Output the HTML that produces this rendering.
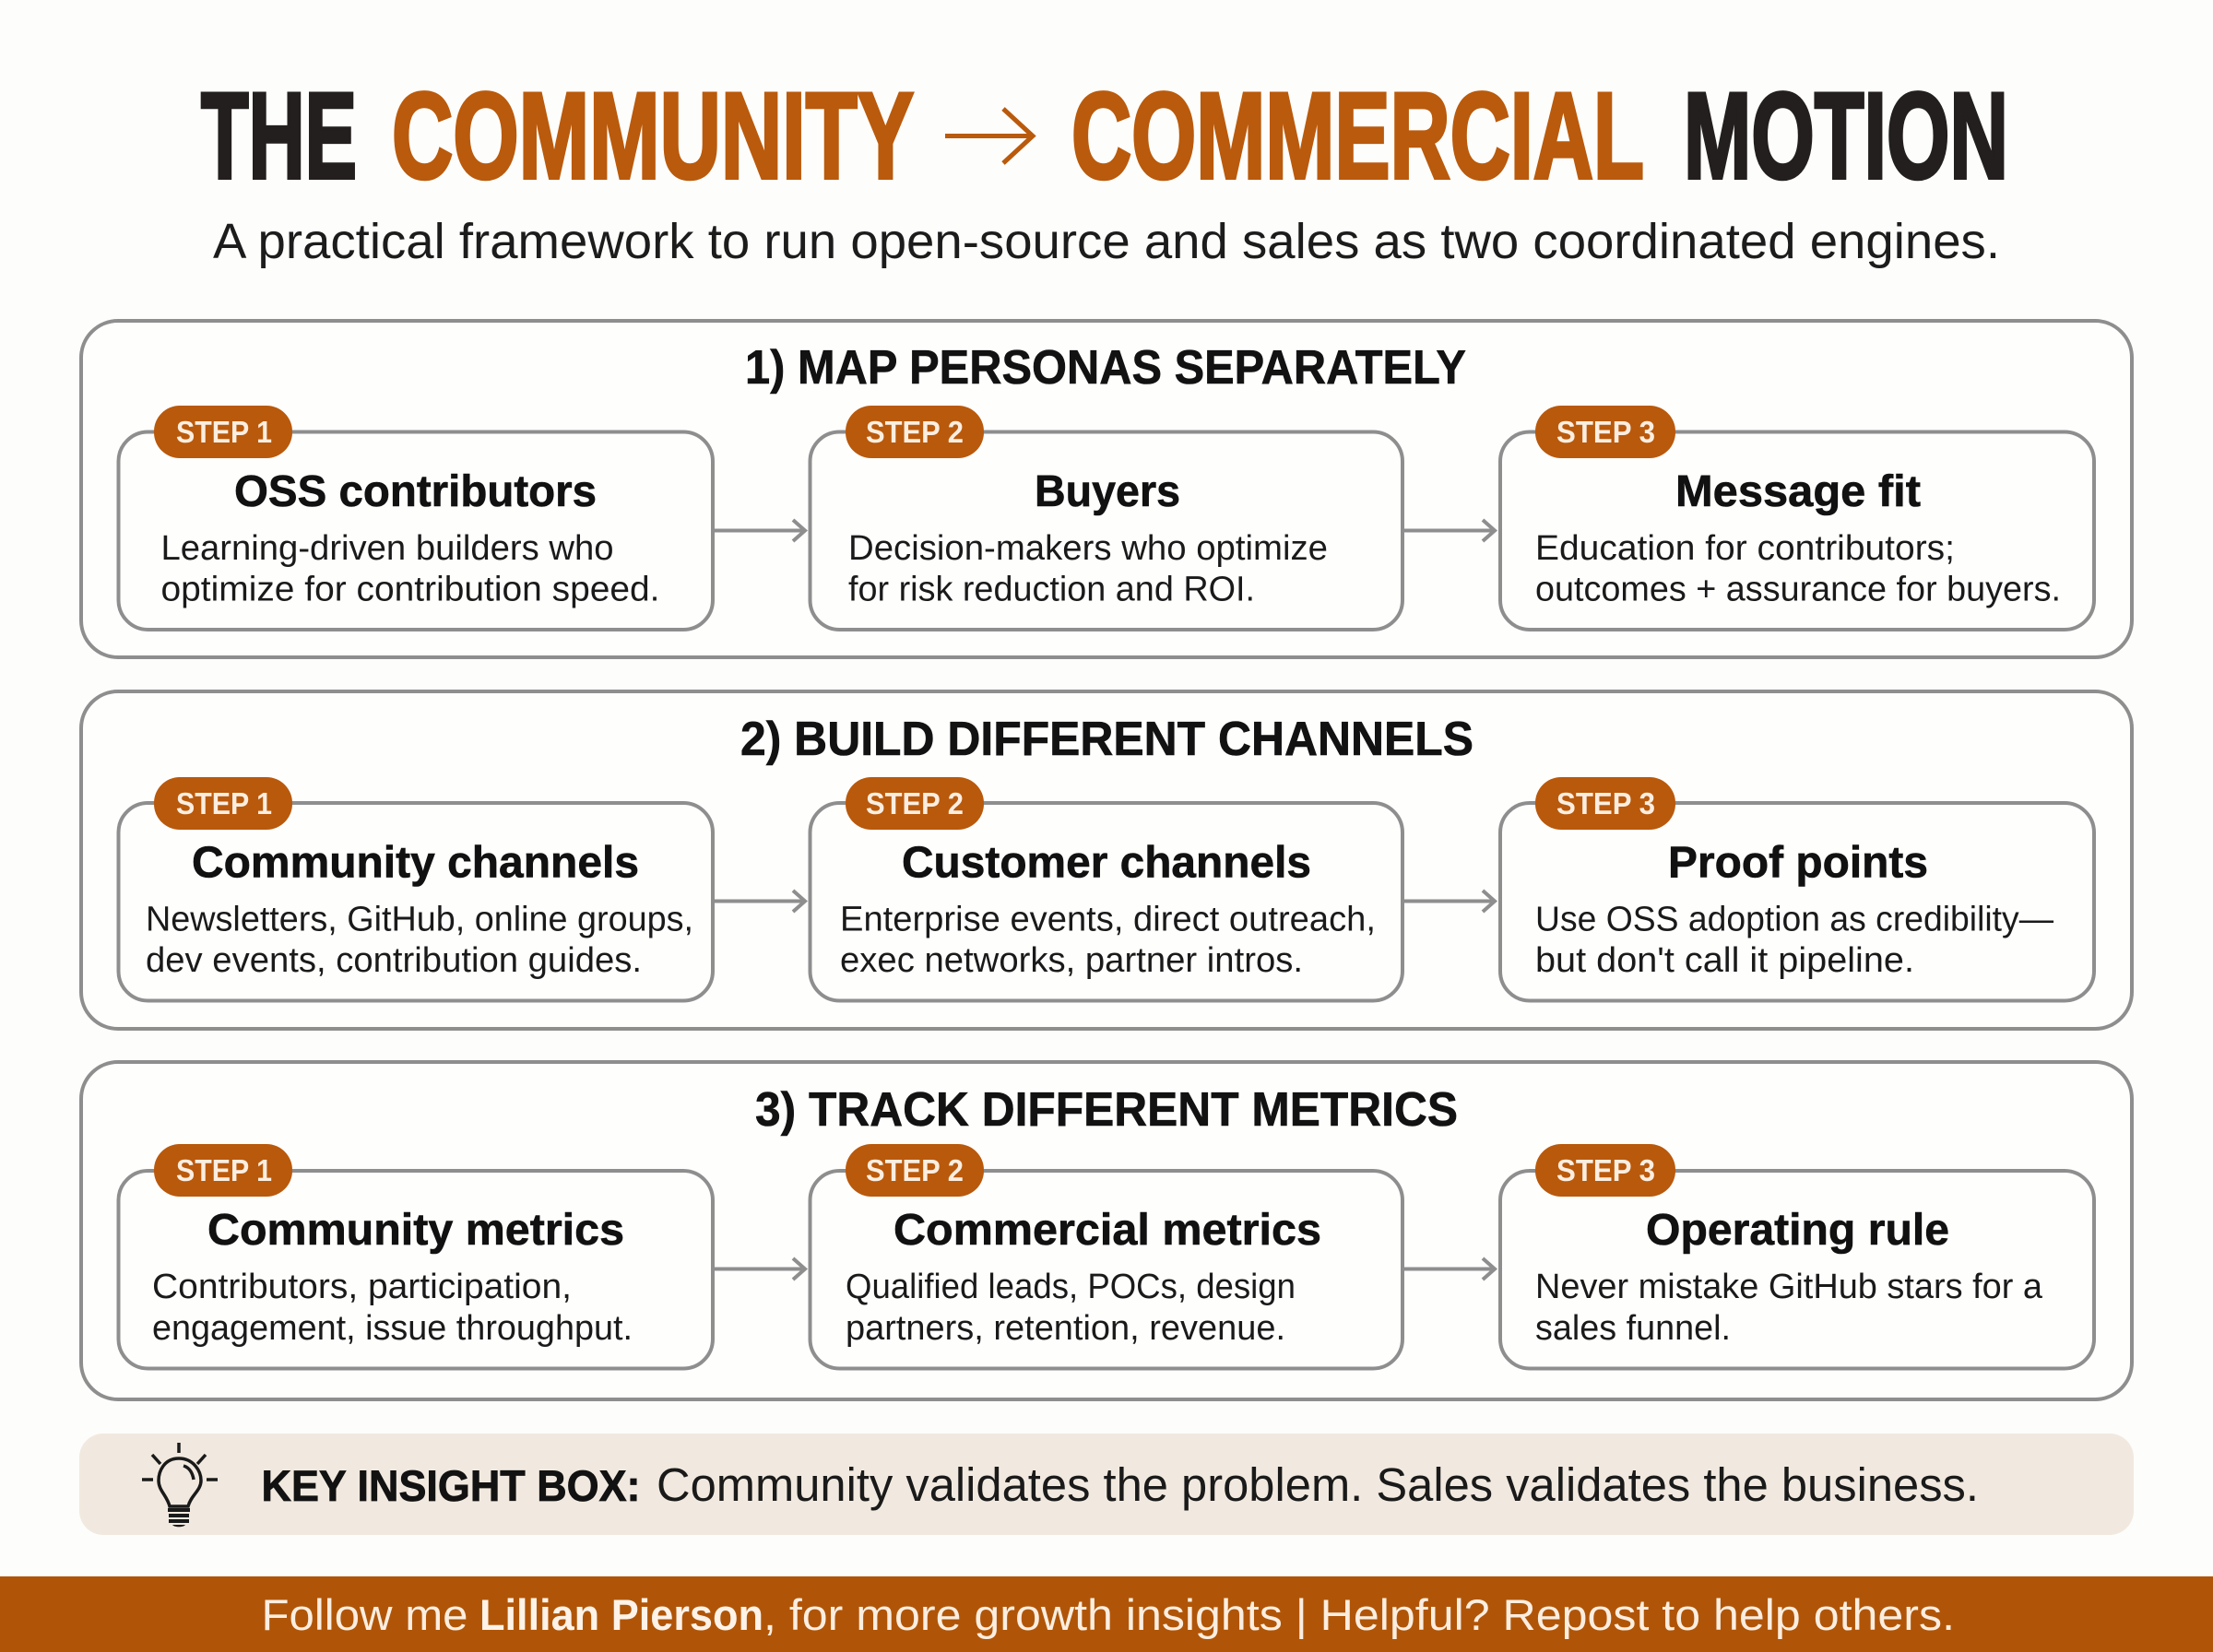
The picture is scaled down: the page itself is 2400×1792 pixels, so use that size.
<!DOCTYPE html>
<html><head><meta charset="utf-8"><style>
html,body{margin:0;padding:0;background:#fdfdfb}
svg{display:block}
text{font-family:"Liberation Sans",sans-serif;white-space:pre}
.h{font-size:52px;font-weight:700;fill:#121212;stroke:#121212;stroke-width:.6}
.t{font-size:48px;font-weight:700;fill:#111;stroke:#111;stroke-width:.6}
.d{font-size:38px;fill:#1a1a1a}
.s{font-size:33px;font-weight:700;fill:#fbeee0}
.o{fill:#fefefd;stroke:#8e8e8e;stroke-width:4}
.b{fill:#b9590c}
.a{stroke:#8e8e8e;stroke-width:4;fill:none}
</style></head><body>
<svg width="2400" height="1792" viewBox="0 0 2400 1792" xmlns="http://www.w3.org/2000/svg">
<rect width="2400" height="1792" fill="#fdfdfb"/>
<!-- Title -->
<g font-size="133" font-weight="700" stroke-width="4">
<text x="218" y="193" textLength="169" lengthAdjust="spacingAndGlyphs" fill="#231f1e" stroke="#231f1e">THE</text>
<text x="425" y="193" textLength="566" lengthAdjust="spacingAndGlyphs" fill="#ba5a0c" stroke="#ba5a0c">COMMUNITY</text>
<text x="1162" y="193" textLength="621" lengthAdjust="spacingAndGlyphs" fill="#ba5a0c" stroke="#ba5a0c">COMMERCIAL</text>
<text x="1826" y="193" textLength="352" lengthAdjust="spacingAndGlyphs" fill="#231f1e" stroke="#231f1e">MOTION</text>
</g>
<path d="M1025 147.5H1119M1088 118L1120 147.5L1088 177" fill="none" stroke="#ba5a0c" stroke-width="5"/>
<text x="231" y="280" font-size="54" fill="#1c1c1c" textLength="1938" lengthAdjust="spacingAndGlyphs">A practical framework to run open-source and sales as two coordinated engines.</text>

<!-- Panels -->
<rect class="o" x="88" y="348" width="2224" height="365" rx="40"/>
<rect class="o" x="88" y="750" width="2224" height="366" rx="40"/>
<rect class="o" x="88" y="1152" width="2224" height="366" rx="40"/>

<!-- Panel headings -->
<text class="h" x="808" y="416" textLength="782" lengthAdjust="spacingAndGlyphs">1) MAP PERSONAS SEPARATELY</text>
<text class="h" x="803" y="819" textLength="795" lengthAdjust="spacingAndGlyphs">2) BUILD DIFFERENT CHANNELS</text>
<text class="h" x="819" y="1221" textLength="762" lengthAdjust="spacingAndGlyphs">3) TRACK DIFFERENT METRICS</text>

<!-- Cards row 1 -->
<rect class="o" x="128.500" y="468.500" width="644.500" height="214.500" rx="32"/>
<rect class="o" x="878.500" y="468.500" width="642.500" height="214.500" rx="32"/>
<rect class="o" x="1627" y="468.500" width="644" height="214.500" rx="32"/>
<!-- Cards row 2 -->
<rect class="o" x="128.500" y="871" width="644.500" height="214.500" rx="32"/>
<rect class="o" x="878.500" y="871" width="642.500" height="214.500" rx="32"/>
<rect class="o" x="1627" y="871" width="644" height="214.500" rx="32"/>
<!-- Cards row 3 -->
<rect class="o" x="128.500" y="1270" width="644.500" height="214.500" rx="32"/>
<rect class="o" x="878.500" y="1270" width="642.500" height="214.500" rx="32"/>
<rect class="o" x="1627" y="1270" width="644" height="214.500" rx="32"/>

<!-- Arrows -->
<path class="a" d="M773 575.500H873M860 564L873 575.500L860 587M1521 575.500H1621M1608 564L1621 575.500L1608 587"/>
<path class="a" d="M773 977.500H873M860 966L873 977.500L860 989M1521 977.500H1621M1608 966L1621 977.500L1608 989"/>
<path class="a" d="M773 1376.500H873M860 1365L873 1376.500L860 1388M1521 1376.500H1621M1608 1365L1621 1376.500L1608 1388"/>

<!-- Badges -->
<rect class="b" x="167" y="440" width="150" height="57" rx="28"/>
<rect class="b" x="917" y="440" width="150" height="57" rx="28"/>
<rect class="b" x="1665" y="440" width="152" height="57" rx="28"/>
<rect class="b" x="167" y="843" width="150" height="57" rx="28"/>
<rect class="b" x="917" y="843" width="150" height="57" rx="28"/>
<rect class="b" x="1665" y="843" width="152" height="57" rx="28"/>
<rect class="b" x="167" y="1241" width="150" height="57" rx="28"/>
<rect class="b" x="917" y="1241" width="150" height="57" rx="28"/>
<rect class="b" x="1665" y="1241" width="152" height="57" rx="28"/>
<text class="s" x="191" y="480" textLength="104" lengthAdjust="spacingAndGlyphs">STEP 1</text>
<text class="s" x="939" y="480" textLength="106" lengthAdjust="spacingAndGlyphs">STEP 2</text>
<text class="s" x="1688" y="480" textLength="107" lengthAdjust="spacingAndGlyphs">STEP 3</text>
<text class="s" x="191" y="883" textLength="104" lengthAdjust="spacingAndGlyphs">STEP 1</text>
<text class="s" x="939" y="883" textLength="106" lengthAdjust="spacingAndGlyphs">STEP 2</text>
<text class="s" x="1688" y="883" textLength="107" lengthAdjust="spacingAndGlyphs">STEP 3</text>
<text class="s" x="191" y="1281" textLength="104" lengthAdjust="spacingAndGlyphs">STEP 1</text>
<text class="s" x="939" y="1281" textLength="106" lengthAdjust="spacingAndGlyphs">STEP 2</text>
<text class="s" x="1688" y="1281" textLength="107" lengthAdjust="spacingAndGlyphs">STEP 3</text>

<!-- Row 1 text -->
<text class="t" x="254" y="549" textLength="393" lengthAdjust="spacingAndGlyphs">OSS contributors</text>
<text class="d" x="174.500" y="607" textLength="491" lengthAdjust="spacingAndGlyphs">Learning-driven builders who</text>
<text class="d" x="174.500" y="651.500" textLength="541" lengthAdjust="spacingAndGlyphs">optimize for contribution speed.</text>
<text class="t" x="1122" y="549" textLength="158" lengthAdjust="spacingAndGlyphs">Buyers</text>
<text class="d" x="920" y="607" textLength="520" lengthAdjust="spacingAndGlyphs">Decision-makers who optimize</text>
<text class="d" x="920" y="651.500" textLength="441" lengthAdjust="spacingAndGlyphs">for risk reduction and ROI.</text>
<text class="t" x="1817" y="549" textLength="266" lengthAdjust="spacingAndGlyphs">Message fit</text>
<text class="d" x="1665" y="607" textLength="455" lengthAdjust="spacingAndGlyphs">Education for contributors;</text>
<text class="d" x="1665" y="651.500" textLength="570" lengthAdjust="spacingAndGlyphs">outcomes + assurance for buyers.</text>

<!-- Row 2 text -->
<text class="t" x="208" y="951.500" textLength="485" lengthAdjust="spacingAndGlyphs">Community channels</text>
<text class="d" x="158" y="1009.500" textLength="594" lengthAdjust="spacingAndGlyphs">Newsletters, GitHub, online groups,</text>
<text class="d" x="158" y="1054" textLength="538" lengthAdjust="spacingAndGlyphs">dev events, contribution guides.</text>
<text class="t" x="978" y="951.500" textLength="444" lengthAdjust="spacingAndGlyphs">Customer channels</text>
<text class="d" x="911" y="1009.500" textLength="581" lengthAdjust="spacingAndGlyphs">Enterprise events, direct outreach,</text>
<text class="d" x="911" y="1054" textLength="502" lengthAdjust="spacingAndGlyphs">exec networks, partner intros.</text>
<text class="t" x="1809" y="951.500" textLength="282" lengthAdjust="spacingAndGlyphs">Proof points</text>
<text class="d" x="1665" y="1009.500" textLength="562" lengthAdjust="spacingAndGlyphs">Use OSS adoption as credibility—</text>
<text class="d" x="1665" y="1054" textLength="411" lengthAdjust="spacingAndGlyphs">but don't call it pipeline.</text>

<!-- Row 3 text -->
<text class="t" x="225" y="1350" textLength="452" lengthAdjust="spacingAndGlyphs">Community metrics</text>
<text class="d" x="165" y="1408" textLength="455" lengthAdjust="spacingAndGlyphs">Contributors, participation,</text>
<text class="d" x="165" y="1453" textLength="521" lengthAdjust="spacingAndGlyphs">engagement, issue throughput.</text>
<text class="t" x="969" y="1350" textLength="464" lengthAdjust="spacingAndGlyphs">Commercial metrics</text>
<text class="d" x="917" y="1408" textLength="488" lengthAdjust="spacingAndGlyphs">Qualified leads, POCs, design</text>
<text class="d" x="917" y="1453" textLength="477" lengthAdjust="spacingAndGlyphs">partners, retention, revenue.</text>
<text class="t" x="1785" y="1350" textLength="329" lengthAdjust="spacingAndGlyphs">Operating rule</text>
<text class="d" x="1665" y="1408" textLength="550" lengthAdjust="spacingAndGlyphs">Never mistake GitHub stars for a</text>
<text class="d" x="1665" y="1453" textLength="212" lengthAdjust="spacingAndGlyphs">sales funnel.</text>

<!-- Insight -->
<rect x="86" y="1555" width="2228" height="110" rx="26" fill="#f1e9df"/>
<g fill="none" stroke="#1a1a1a" stroke-width="3.500">
<path d="M194 1565V1576M165 1578L174 1588M223 1578L214 1588" />
<path d="M154 1605H166M224 1605H236" />
<path d="M194 1582C178 1582 172 1596 172 1606C172 1617 181 1622 184 1634H204C207 1622 218 1617 218 1606C218 1596 210 1582 194 1582Z"/>
<path d="M199 1590C206 1592 209 1599 210 1605"/>
</g>
<g fill="#1a1a1a">
<rect x="182" y="1636" width="24" height="4"/>
<rect x="183" y="1642" width="22" height="4"/>
<rect x="183" y="1648" width="22" height="4"/>
<path d="M187 1654H201C199 1657 189 1657 187 1654Z"/>
</g>
<text x="283.500" y="1628" font-size="47" font-weight="700" fill="#121212" stroke="#121212" stroke-width=".8" textLength="411" lengthAdjust="spacingAndGlyphs">KEY INSIGHT BOX:</text>
<text x="712" y="1628" font-size="51" fill="#1a1a1a" textLength="1434" lengthAdjust="spacingAndGlyphs">Community validates the problem. Sales validates the business.</text>

<!-- Footer -->
<rect x="0" y="1710" width="2400" height="82" fill="#b05508"/>
<text x="283.500" y="1768" font-size="47" fill="#fbeee0" textLength="224" lengthAdjust="spacingAndGlyphs">Follow me</text>
<text x="520" y="1768" font-size="47" font-weight="700" fill="#fdf3e8" textLength="308" lengthAdjust="spacingAndGlyphs">Lillian Pierson</text>
<text x="828" y="1768" font-size="47" fill="#fbeee0" textLength="1292" lengthAdjust="spacingAndGlyphs">, for more growth insights | Helpful? Repost to help others.</text>
</svg>
</body></html>
